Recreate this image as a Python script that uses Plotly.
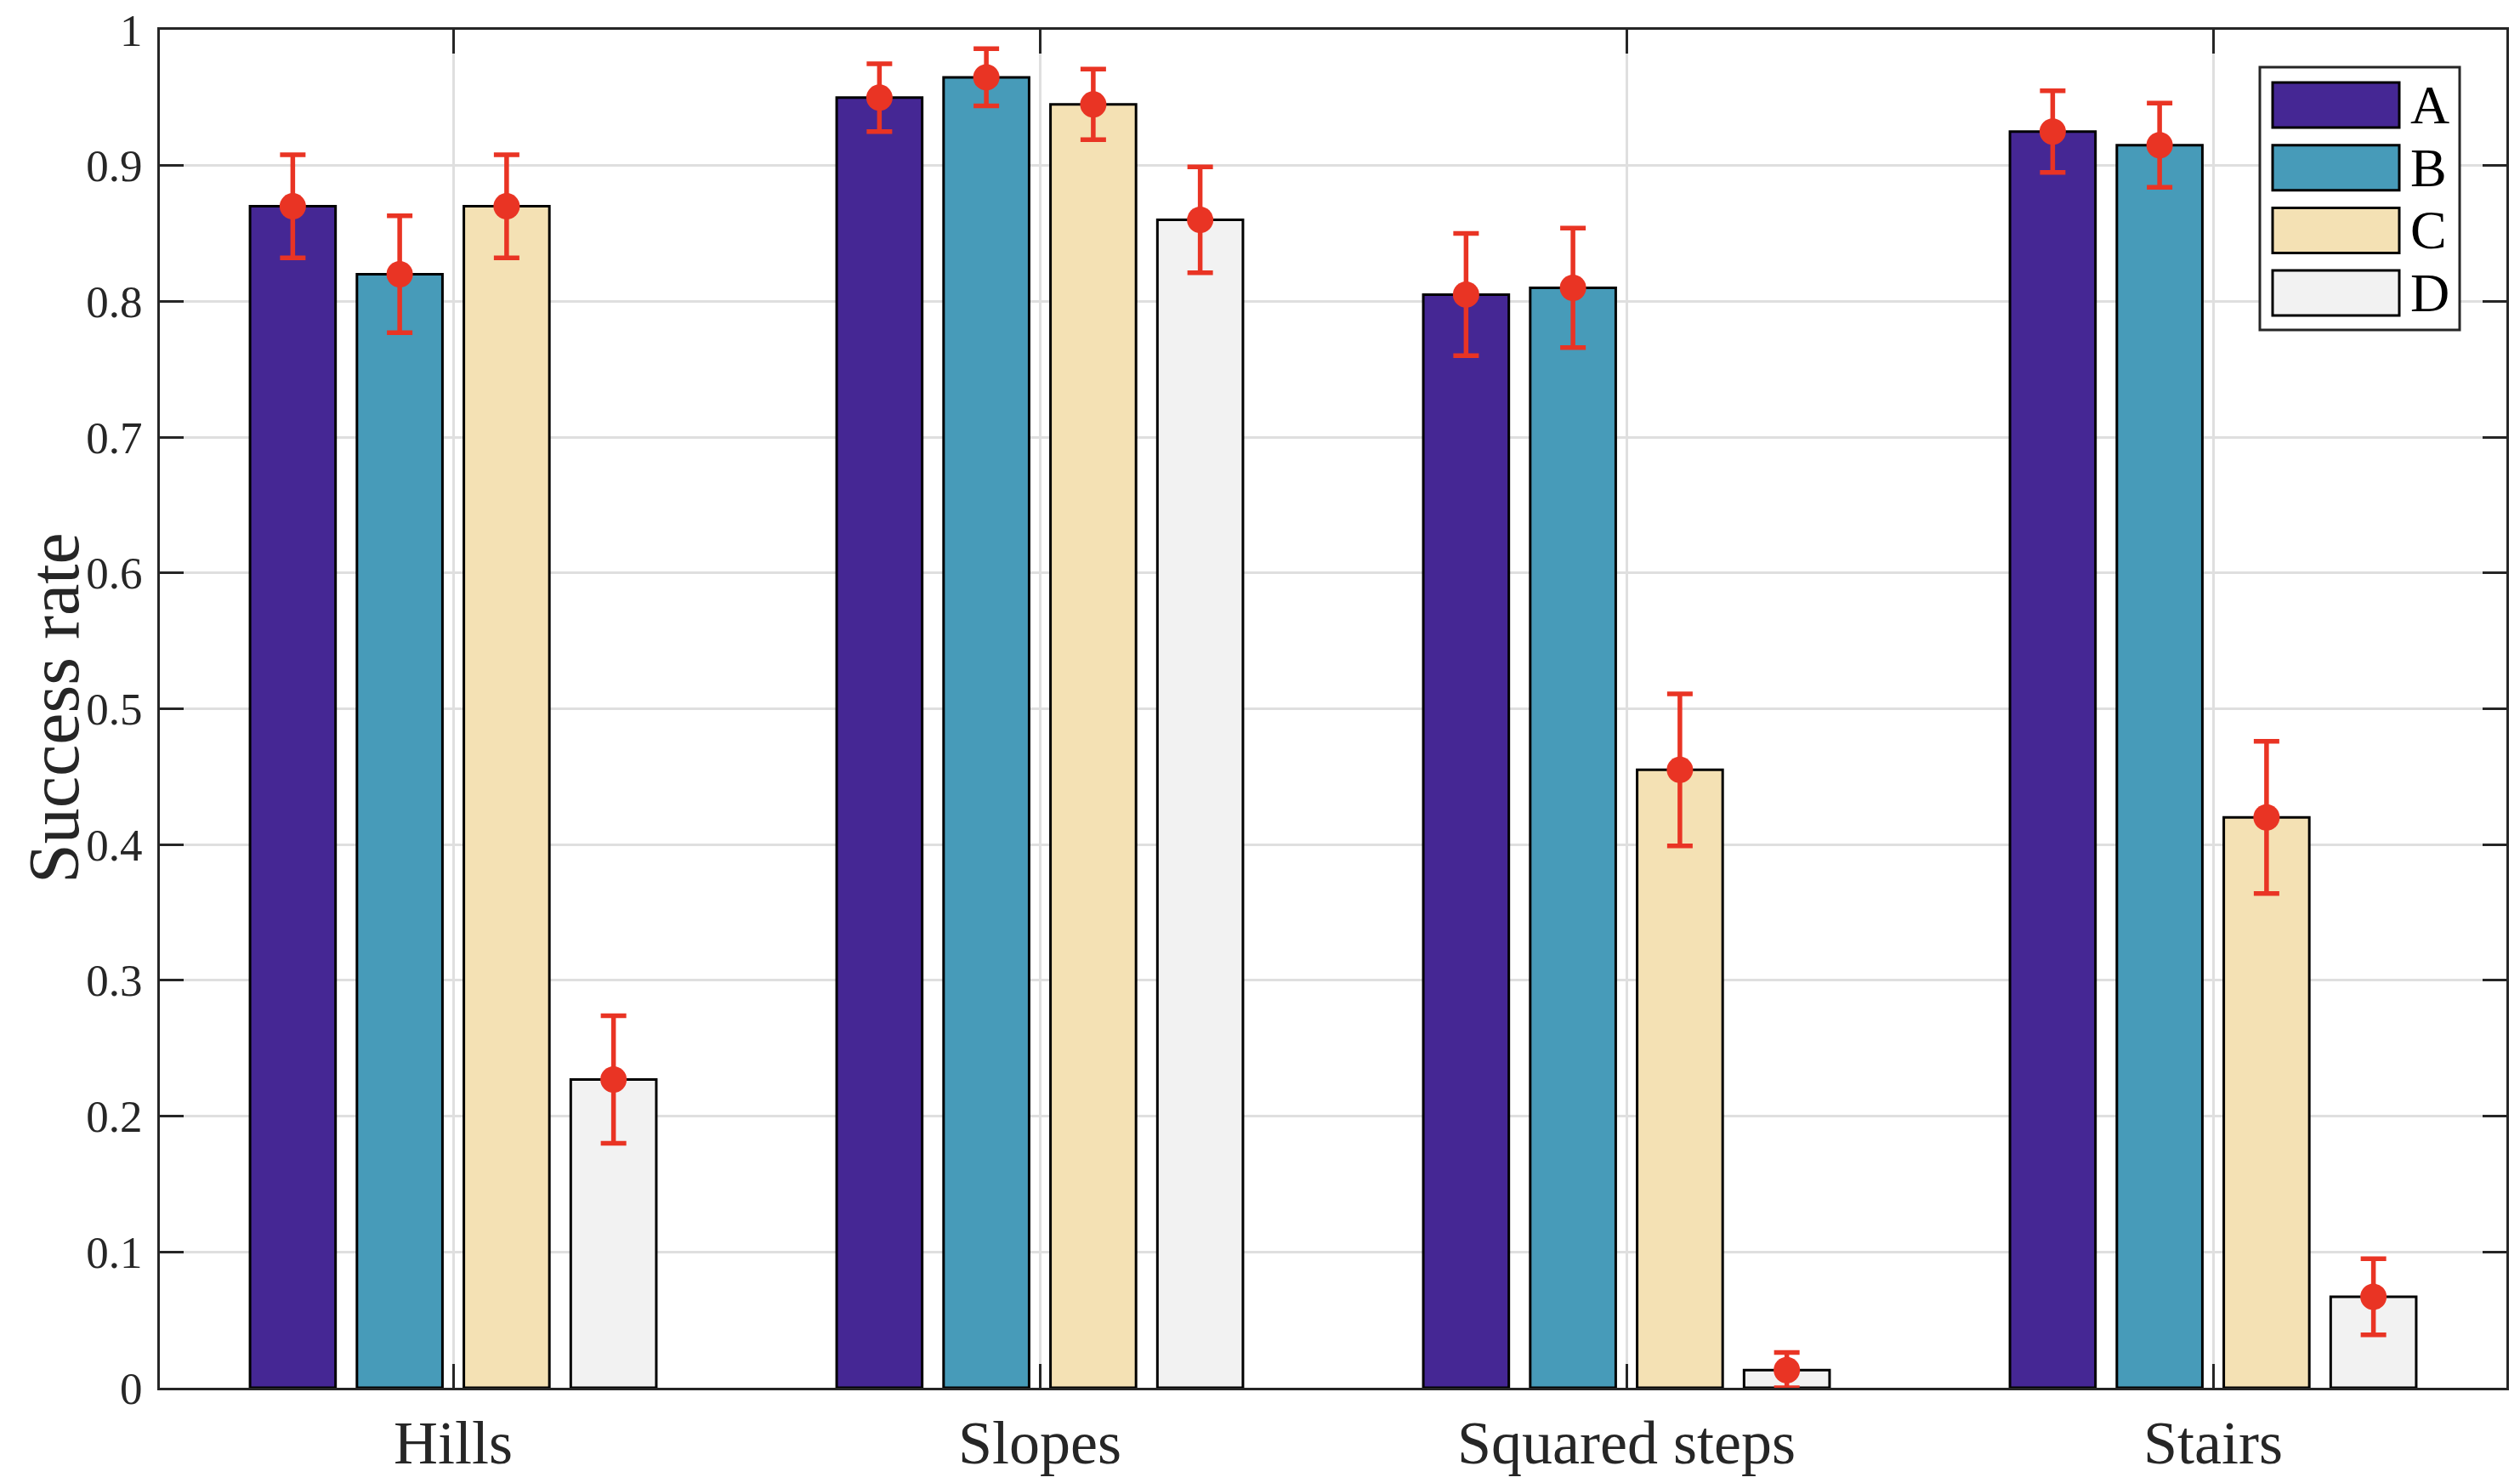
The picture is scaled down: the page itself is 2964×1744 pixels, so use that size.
import plotly.graph_objects as go

categories = ["Hills", "Slopes", "Squared steps", "Stairs"]
series_names = ["A", "B", "C", "D"]
values_A = [0.870, 0.950, 0.805, 0.925]
values_B = [0.820, 0.965, 0.810, 0.915]
values_C = [0.870, 0.945, 0.455, 0.420]
values_D = [0.227, 0.860, 0.013, 0.067]
err_A = [0.038, 0.025, 0.045, 0.030]
err_B = [0.043, 0.021, 0.044, 0.031]
err_C = [0.038, 0.026, 0.056, 0.056]
err_D = [0.047, 0.039, 0.013, 0.028]
colors = ["#452794", "#479BB9", "#F4E1B4", "#F2F2F2"]
err_color = "#E93424"
y_ticks = [0, 0.1, 0.2, 0.3, 0.4, 0.5, 0.6, 0.7, 0.8, 0.9, 1]
y_tick_text = ["0", "0.1", "0.2", "0.3", "0.4", "0.5", "0.6", "0.7", "0.8", "0.9", "1"]
y_title = "Success rate"

values = [values_A, values_B, values_C, values_D]
errors = [err_A, err_B, err_C, err_D]

OFF = 8  # page body margin
W, H = 2964 - 2 * OFF, 1744 - 2 * OFF
L, R, T = 188 - OFF, 16 - OFF, 35 - OFF
B = H - (1632 - OFF)
PW, PH = W - L - R, H - T - B
FONT = "Liberation Serif"
AX = "#262626"
BARGAP = 0.271

def px_x(x):
    return (x - OFF - L) / PW

def px_y(y):
    return (H - B - (y - OFF)) / PH

fig = go.Figure()
for name, vals, col in zip(series_names, values, colors):
    fig.add_trace(go.Bar(
        x=categories, y=vals, name=name, marker=dict(color=col, line=dict(color="black", width=3)),
        showlegend=False, offsetgroup=name,
    ))
for name, vals, errs in zip(series_names, values, errors):
    fig.add_trace(go.Scatter(
        x=categories, y=vals, mode="markers", name=name + " err", showlegend=False,
        marker=dict(color=err_color, size=31),
        error_y=dict(type="data", array=errs, color=err_color, thickness=5.5, width=15),
        offsetgroup=name,
    ))

# custom legend (MATLAB style)
shapes = [dict(type="rect", xref="paper", yref="paper",
               x0=px_x(2658), x1=px_x(2893), y0=px_y(388), y1=px_y(79),
               line=dict(color=AX, width=3), fillcolor="white", layer="above")]
annotations = []
row_top = 97
step = 73.7
for i, (name, col) in enumerate(zip(series_names, colors)):
    y0 = row_top + i * step
    y1 = y0 + 53
    shapes.append(dict(type="rect", xref="paper", yref="paper",
                       x0=px_x(2673), x1=px_x(2822), y0=px_y(y1), y1=px_y(y0),
                       line=dict(color="black", width=3), fillcolor=col, layer="above"))
    annotations.append(dict(xref="paper", yref="paper", x=px_x(2833), y=px_y((y0 + y1) / 2),
                            text=name, showarrow=False, xanchor="left", yanchor="middle",
                            font=dict(family=FONT, size=64, color="black")))

# y-axis title as rotated annotation
annotations.append(dict(xref="paper", yref="paper", x=px_x(64), y=px_y(833),
                        text=y_title, showarrow=False, textangle=-90,
                        xanchor="center", yanchor="middle",
                        font=dict(family=FONT, size=84, color=AX)))

fig.update_layout(
    width=W, height=H,
    margin=dict(l=L, r=R, t=T, b=B, autoexpand=False),
    paper_bgcolor="white", plot_bgcolor="white",
    barmode="group", bargap=BARGAP, bargroupgap=0.2,
    scattermode="group", scattergap=BARGAP,
    shapes=shapes, annotations=annotations,
    font=dict(family=FONT, color=AX),
)
fig.update_xaxes(
    range=[-0.5, 3.5], showline=True, linecolor=AX, linewidth=3, mirror="ticks",
    ticks="inside", ticklen=28, tickwidth=3, tickcolor=AX,
    showgrid=True, gridcolor="#DFDFDF", gridwidth=3,
    tickfont=dict(family=FONT, size=72, color=AX), ticklabelstandoff=0,
)
fig.update_yaxes(
    range=[0, 1], tickvals=y_ticks, ticktext=y_tick_text,
    showline=True, linecolor=AX, linewidth=3, mirror="ticks",
    ticks="inside", ticklen=28, tickwidth=3, tickcolor=AX,
    showgrid=True, gridcolor="#DFDFDF", gridwidth=3, zeroline=False,
    tickfont=dict(family=FONT, size=53, color=AX), ticklabelstandoff=7,
    ticklabeloverflow="allow",
)

fig.write_html("out.html")
